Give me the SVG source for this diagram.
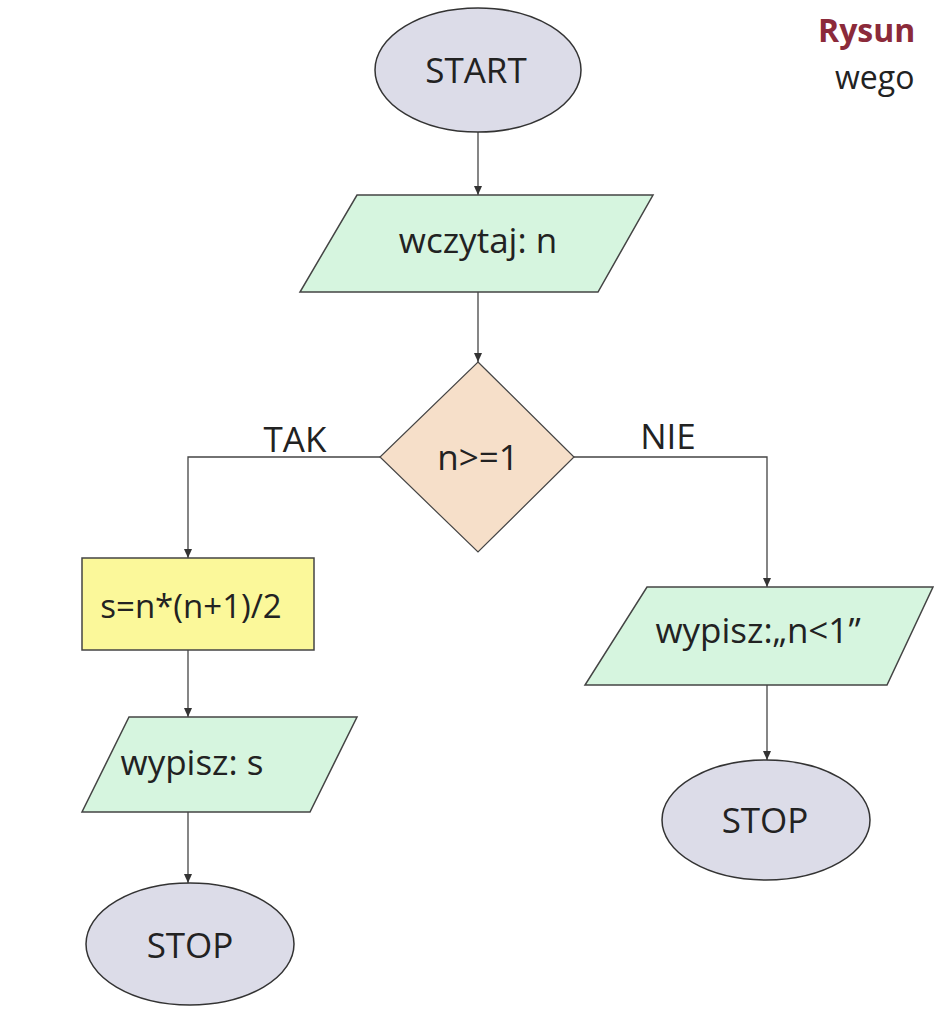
<svg xmlns="http://www.w3.org/2000/svg" width="935" height="1009" viewBox="0 0 935 1009">
<style>
  .t{font-family:"Open Sans","Liberation Sans",sans-serif;font-size:35px;fill:#222;text-anchor:middle}
  .term{fill:#dcdce8;stroke:#333;stroke-width:1.5}
  .io{fill:#d6f5df;stroke:#444;stroke-width:1.5}
  .dec{fill:#f6dfc9;stroke:#444;stroke-width:1.2}
  .proc{fill:#fbf89a;stroke:#444;stroke-width:1.5}
  .ln{fill:none;stroke:#444;stroke-width:1.3}
  .cap{font-family:"Open Sans","Liberation Sans",sans-serif;font-size:32px}
</style>
<defs>
  <marker id="ah" markerWidth="10" markerHeight="10" refX="9" refY="5" orient="auto" markerUnits="userSpaceOnUse">
    <path d="M0,1 L9,5 L0,9 Z" fill="#333"/>
  </marker>
</defs>
<rect width="935" height="1009" fill="#ffffff"/>
<g id="connectors">
  <line class="ln" x1="478" y1="132" x2="478" y2="195" marker-end="url(#ah)"/>
  <line class="ln" x1="478" y1="292" x2="478" y2="362" marker-end="url(#ah)"/>
  <polyline class="ln" points="380,457 188,457 188,558" marker-end="url(#ah)"/>
  <polyline class="ln" points="574,457 767,457 767,587" marker-end="url(#ah)"/>
  <line class="ln" x1="188" y1="650" x2="188" y2="717" marker-end="url(#ah)"/>
  <line class="ln" x1="188" y1="812" x2="188" y2="883" marker-end="url(#ah)"/>
  <line class="ln" x1="767" y1="685" x2="767" y2="760" marker-end="url(#ah)"/>
  <text class="t" x="295" y="452">TAK</text>
  <text class="t" x="668" y="449">NIE</text>
</g>
<g id="start">
  <ellipse class="term" cx="478" cy="70" rx="103" ry="62"/>
  <text class="t" x="476" y="83">START</text>
</g>
<g id="read">
  <polygon class="io" points="357,195 653,195 598,292 300,292"/>
  <text class="t" x="478" y="253">wczytaj: n</text>
</g>
<g id="decision">
  <polygon class="dec" points="478,362 574,457 478,552 380,457"/>
  <text class="t" x="478" y="470">n&gt;=1</text>
</g>
<g id="calc">
  <rect class="proc" x="82" y="558" width="232" height="92"/>
  <text class="t" x="191" y="618" style="font-size:33px">s=n*(n+1)/2</text>
</g>
<g id="write_s">
  <polygon class="io" points="129,717 357,717 310,812 82,812"/>
  <text class="t" x="192" y="775">wypisz: s</text>
</g>
<g id="stop_left">
  <ellipse class="term" cx="190" cy="944" rx="104" ry="61"/>
  <text class="t" x="190" y="958">STOP</text>
</g>
<g id="write_n">
  <polygon class="io" points="647,587 933,587 887,685 585,685"/>
  <text class="t" x="758" y="643">wypisz:„n&lt;1”</text>
</g>
<g id="stop_right">
  <ellipse class="term" cx="766" cy="820" rx="104" ry="60"/>
  <text class="t" x="765" y="833">STOP</text>
</g>
<g id="caption">
  <text class="cap" x="818" y="42" font-weight="bold" fill="#8b2a3a">Rysun</text>
  <text class="cap" x="835" y="89" fill="#222">wego</text>
</g>
</svg>
